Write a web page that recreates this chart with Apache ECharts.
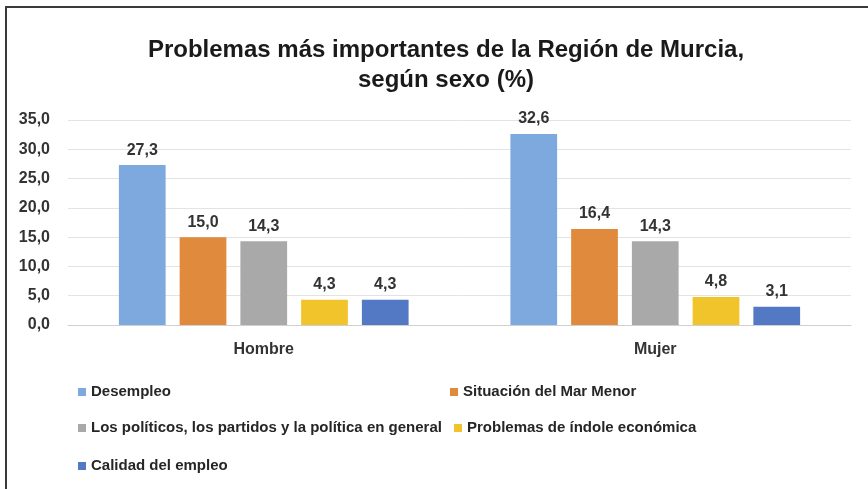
<!DOCTYPE html>
<html>
<head>
<meta charset="utf-8">
<script src="https://cdn.jsdelivr.net/npm/echarts@6/dist/echarts.min.js"></script>
<style>
  html, body { margin: 0; padding: 0; background: #fff; }
  #chart { width: 868px; height: 489px; }
</style>
</head>
<body>
<div id="chart"></div>
<script>
const categories = ['Hombre', 'Mujer'];
const seriesNames = [
  'Desempleo',
  'Situación del Mar Menor',
  'Los políticos, los partidos y la política en general',
  'Problemas de índole económica',
  'Calidad del empleo'
];
const desempleo = [27.3, 32.6];
const marMenor = [15.0, 16.4];
const politicos = [14.3, 14.3];
const economica = [4.3, 4.8];
const calidad = [4.3, 3.1];
const seriesValues = [desempleo, marMenor, politicos, economica, calidad];
const colors = ['#7ea9df', '#df8a3c', '#a9a9a9', '#f2c42c', '#5479c4'];

const font = "'Liberation Sans Narrow', 'Liberation Sans', sans-serif";

// legend laid out like the excel one: two columns, three rows
const legendPos = [
  { left: 78, top: 384 },
  { left: 450, top: 384 },
  { left: 78, top: 420 },
  { left: 454, top: 420 },
  { left: 78, top: 458 }
];

const fmt = v => v.toFixed(1).replace('.', ',');

const option = {
  animation: false,
  color: colors,
  title: {
    text: 'Problemas más importantes de la Región de Murcia,\nsegún sexo (%)',
    left: 441,
    top: 30,
    textAlign: 'center',
    textStyle: {
      fontFamily: font,
      fontWeight: 'bold',
      fontSize: 24,
      lineHeight: 30,
      color: '#1a1a1a'
    }
  },
  graphic: [{
    type: 'rect',
    shape: { x: 6, y: 7, width: 900, height: 600 },
    style: { fill: 'none', stroke: '#3a3a3a', lineWidth: 2 }
  }],
  legend: legendPos.map((p, i) => ({
    left: p.left,
    top: p.top,
    data: [seriesNames[i]],
    icon: 'rect',
    itemWidth: 8,
    itemHeight: 8,
    padding: 0,
    textStyle: {
      fontFamily: font,
      fontWeight: 'bold',
      fontSize: 15,
      lineHeight: 16,
      color: '#262626'
    }
  })),
  grid: {
    left: 68,
    right: 17,
    top: 120,
    bottom: 164
  },
  xAxis: {
    type: 'category',
    data: categories,
    axisTick: { show: false },
    axisLine: { lineStyle: { color: '#d0d0d0', width: 1 } },
    axisLabel: {
      margin: 17,
      fontFamily: font,
      fontWeight: 'bold',
      fontSize: 16,
      color: '#333'
    }
  },
  yAxis: {
    type: 'value',
    min: 0,
    max: 35,
    interval: 5,
    axisLine: { show: false },
    axisTick: { show: false },
    splitLine: { lineStyle: { color: '#e3e3e3', width: 1 } },
    axisLabel: {
      margin: 18,
      fontFamily: font,
      fontWeight: 'bold',
      fontSize: 16,
      color: '#333',
      formatter: v => fmt(v)
    }
  },
  series: seriesNames.map((name, i) => ({
    name: name,
    type: 'bar',
    data: seriesValues[i],
    barGap: '30%',
    barCategoryGap: '26%',
    label: {
      show: true,
      position: 'top',
      distance: 7,
      fontFamily: font,
      fontWeight: 'bold',
      fontSize: 16,
      color: '#333',
      formatter: p => fmt(p.value)
    }
  }))
};

const chart = echarts.init(document.getElementById('chart'));
chart.setOption(option);
</script>
</body>
</html>
